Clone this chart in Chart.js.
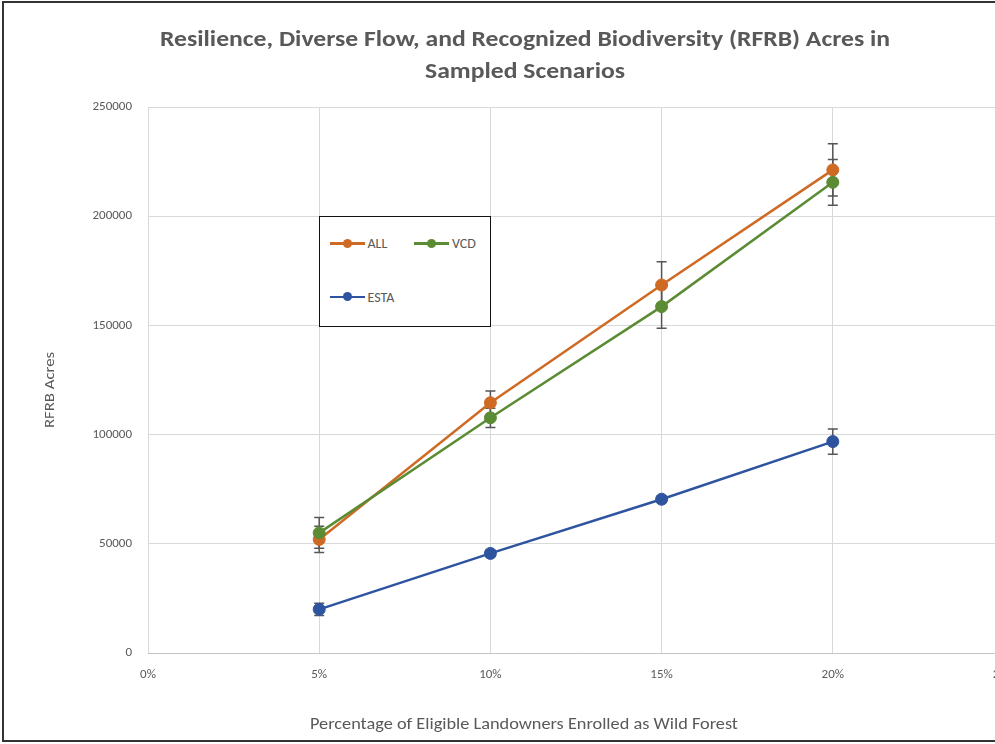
<!DOCTYPE html>
<html>
<head>
<meta charset="utf-8">
<script src="https://cdn.jsdelivr.net/npm/chart.js@4.4.1/dist/chart.umd.min.js"></script>
<style>
  html, body { margin: 0; padding: 0; background: #fff; overflow: hidden; }
  #wrap { position: relative; width: 995px; height: 744px; overflow: hidden; }
  #grafica { position: absolute; left: 0; top: 0; }
  #frame {
    position: absolute; left: 2px; top: 1px; width: 1100px; height: 741px;
    box-sizing: border-box; border: 2px solid #333; pointer-events: none;
  }
  #leyenda {
    position: absolute; left: 319px; top: 216px; width: 172px; height: 111px;
    box-sizing: border-box; border: 1.5px solid #111; background: #fff;
    font-family: Carlito, Lato, sans-serif; font-size: 14px; color: #595959;
  }
  .item { position: absolute; display: flex; align-items: center; height: 16px; }
  .sw { position: relative; width: 35px; height: 2.5px; margin-right: 3px; }
  .sw i { position: absolute; left: 13px; top: -3.5px; width: 9px; height: 9px; border-radius: 50%; }
</style>
</head>
<body>
<div id="wrap">
  <canvas id="grafica" width="1050" height="744"></canvas>
  <div id="leyenda"></div>
  <div id="frame"></div>
</div>
<script>
  const xVals = [0.05, 0.10, 0.15, 0.20];

  const allVals = [52000, 114600, 168500, 221200];
  const allErr = [6000, 5400, 10700, 12000];

  const vcdVals = [55000, 107700, 158600, 215500];
  const vcdErr = [7000, 4400, 9900, 10500];

  const estaVals = [20000, 45600, 70400, 96800];
  const estaErr = [2800, 1500, 1500, 5800];

  const titleLines = ["Resilience, Diverse Flow, and Recognized Biodiversity (RFRB) Acres in", "Sampled Scenarios"];
  const xTitle = "Percentage of Eligible Landowners Enrolled as Wild Forest";
  const yTitle = "RFRB Acres";

  // order: lower number is drawn on top (VCD covers ALL at 5%)
  const series = [
    { label: "ALL", values: allVals, err: allErr, color: "#CF6A24", order: 1 },
    { label: "VCD", values: vcdVals, err: vcdErr, color: "#5B8C34", order: 0 },
    { label: "ESTA", values: estaVals, err: estaErr, color: "#2E54A0", order: 2 },
  ];

  const FONT = "Carlito, Lato, sans-serif";
  const GRIS = "#595959";

  // text stretched or squeezed to the width it has in the original
  function fitText(ctx, text, cx, cy, targetW) {
    const w = ctx.measureText(text).width;
    ctx.save();
    ctx.translate(cx, cy);
    ctx.scale(targetW / w, 1);
    ctx.fillText(text, 0, 0);
    ctx.restore();
  }

  const decor = {
    id: "decor",
    beforeDatasetsDraw(chart) {
      const ctx = chart.ctx;
      const y = chart.scales.y;
      ctx.save();
      ctx.strokeStyle = "#555";
      ctx.lineWidth = 1.5;
      chart.data.datasets.forEach((ds, i) => {
        const meta = chart.getDatasetMeta(i);
        meta.data.forEach((pt, j) => {
          const v = ds.data[j].y;
          const e = ds.errores[j];
          const y1 = y.getPixelForValue(v + e);
          const y2 = y.getPixelForValue(v - e);
          ctx.beginPath();
          ctx.moveTo(pt.x, y1); ctx.lineTo(pt.x, y2);
          ctx.moveTo(pt.x - 5, y1); ctx.lineTo(pt.x + 5, y1);
          ctx.moveTo(pt.x - 5, y2); ctx.lineTo(pt.x + 5, y2);
          ctx.stroke();
        });
      });
      ctx.restore();
    },
    afterDraw(chart) {
      const ctx = chart.ctx;
      ctx.save();
      ctx.fillStyle = GRIS;
      ctx.textAlign = "center";
      ctx.textBaseline = "middle";
      ctx.font = "bold 23px " + FONT;
      fitText(ctx, titleLines[0], 525, 40, 730);
      fitText(ctx, titleLines[1], 525, 72, 200);
      ctx.font = "16px " + FONT;
      fitText(ctx, xTitle, 524, 725, 428);
      ctx.save();
      ctx.translate(50, 390);
      ctx.rotate(-Math.PI / 2);
      ctx.font = "15px " + FONT;
      fitText(ctx, yTitle, 0, 0, 76);
      ctx.restore();
      ctx.restore();
    },
  };

  const ctx = document.getElementById("grafica").getContext("2d");

  new Chart(ctx, {
    type: "line",
    data: {
      datasets: series.map(s => ({
        label: s.label,
        data: xVals.map((x, i) => ({ x: x, y: s.values[i] })),
        errores: s.err,
        order: s.order,
        borderColor: s.color,
        backgroundColor: s.color,
        pointBackgroundColor: s.color,
        pointBorderColor: s.color,
        borderWidth: 2.5,
        pointRadius: 6,
        pointBorderWidth: 1,
        tension: 0,
      })),
    },
    options: {
      responsive: false,
      animation: false,
      layout: { padding: { top: 107, right: 46, left: 0, bottom: 0 } },
      plugins: {
        legend: { display: false },
        tooltip: { enabled: false },
      },
      scales: {
        x: {
          type: "linear",
          min: 0,
          max: 0.25,
          afterFit: scale => { scale.height = 91; },
          ticks: {
            stepSize: 0.05,
            padding: 14,
            color: GRIS,
            font: { family: FONT, size: 13 },
            callback: v => Math.round(v * 100) + "%",
          },
          grid: { color: "#d9d9d9", drawTicks: false },
          border: { display: true, color: "#c4c4c4" },
        },
        y: {
          min: 0,
          max: 250000,
          afterFit: scale => { scale.width = 148; },
          ticks: {
            stepSize: 50000,
            padding: 16,
            color: GRIS,
            font: { family: FONT, size: 13 },
            callback: v => String(v),
          },
          grid: { color: "#d9d9d9", drawTicks: false },
          border: { display: false },
        },
      },
    },
    plugins: [decor],
  });

  // legend box inside the plot
  const leyenda = document.getElementById("leyenda");
  const posiciones = [[9.5, 18.5], [94, 18.5], [9.5, 72]];
  series.forEach((s, i) => {
    const item = document.createElement("div");
    item.className = "item";
    item.style.left = posiciones[i][0] + "px";
    item.style.top = posiciones[i][1] + "px";
    item.innerHTML = '<span class="sw" style="background:' + s.color + '"><i style="background:' + s.color + '"></i></span>' + s.label;
    leyenda.appendChild(item);
  });
</script>
</body>
</html>
